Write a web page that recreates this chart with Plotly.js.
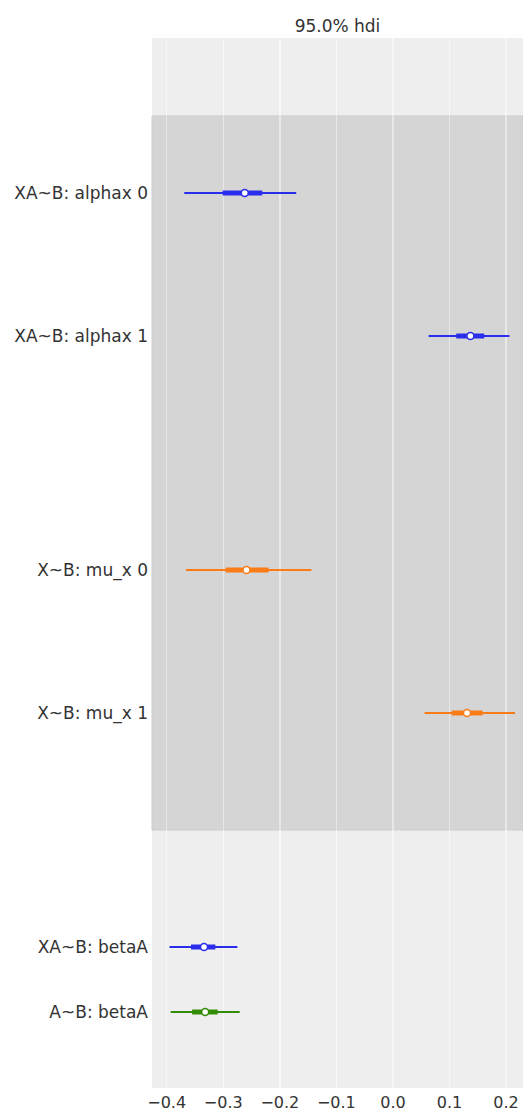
<!DOCTYPE html>
<html>
<head>
<meta charset="utf-8">
<script src="https://cdn.plot.ly/plotly-3.0.1.min.js"></script>
<style>html,body{margin:0;padding:0;background:#fff;}#chart{width:523px;height:1111px;}</style>
</head>
<body>
<div id="chart"></div>
<script>
// Row labels (top to bottom) and their positions on the forest plot's y scale
const labels = ["XA~B: alphax 0", "XA~B: alphax 1", "X~B: mu_x 0", "X~B: mu_x 1", "XA~B: betaA", "A~B: betaA"];
const yPos = [895, 752, 518, 375, 141, 76];
const rowColors = ["#2a2eec", "#2a2eec", "#fa7c17", "#fa7c17", "#2a2eec", "#328c06"];
// 95% HDI bounds
const hdiLow  = [-0.369, 0.063, -0.366, 0.056, -0.395, -0.393];
const hdiHigh = [-0.171, 0.206, -0.144, 0.216, -0.275, -0.271];
// Interquartile range
const iqrLow  = [-0.301, 0.112, -0.296, 0.104, -0.357, -0.355];
const iqrHigh = [-0.231, 0.1615, -0.220, 0.1585, -0.314, -0.310];
// Medians
const medians = [-0.262, 0.137, -0.259, 0.131, -0.334, -0.332];
// Shaded group band (y extent)
const bandY = [258, 972];
// X ticks
const xTickVals = [-0.4, -0.3, -0.2, -0.1, 0.0, 0.1, 0.2];
const xTickText = ["\u22120.4", "\u22120.3", "\u22120.2", "\u22120.1", "0.0", "0.1", "0.2"];

const traces = [];
for (let i = 0; i < labels.length; i++) {
  traces.push({
    x: [hdiLow[i], hdiHigh[i]], y: [yPos[i], yPos[i]],
    mode: "lines", line: {color: rowColors[i], width: 2}, hoverinfo: "skip", showlegend: false
  });
  traces.push({
    x: [iqrLow[i], iqrHigh[i]], y: [yPos[i], yPos[i]],
    mode: "lines", line: {color: rowColors[i], width: 5}, hoverinfo: "skip", showlegend: false
  });
  traces.push({
    x: [medians[i]], y: [yPos[i]],
    mode: "markers",
    marker: {color: "#ffffff", size: 7, line: {color: rowColors[i], width: 1.5}},
    hoverinfo: "skip", showlegend: false
  });
}

const layout = {
  width: 523, height: 1111,
  margin: {l: 152, r: 0, t: 38, b: 23},
  paper_bgcolor: "#ffffff",
  plot_bgcolor: "#eeeeee",
  font: {family: "DejaVu Sans, sans-serif", size: 17, color: "#333333"},
  title: {text: "95.0% hdi", x: 0.5, xref: "paper", y: 1, yref: "paper", yanchor: "bottom", pad: {b: 6},
          font: {family: "DejaVu Sans, sans-serif", size: 17, color: "#333333"}},
  xaxis: {
    range: [-0.426, 0.230], tickvals: xTickVals, ticktext: xTickText,
    showgrid: true, gridcolor: "rgba(255,255,255,0.45)", gridwidth: 1.5, zeroline: false,
    showline: false, ticks: "", ticklabelstandoff: 3, tickfont: {size: 16, color: "#333333"}
  },
  yaxis: {
    range: [0, 1050], tickvals: yPos, ticktext: labels,
    showgrid: false, zeroline: false, showline: false, ticks: "", ticklabelstandoff: 3,
    tickfont: {size: 17, color: "#333333"}
  },
  shapes: [{
    type: "rect", xref: "paper", yref: "y", x0: 0, x1: 1, y0: bandY[0], y1: bandY[1],
    fillcolor: "#d5d5d5", line: {width: 1, color: "#cdcdcd"}, layer: "below"
  }]
};

Plotly.newPlot("chart", traces, layout, {displayModeBar: false, staticPlot: true});
</script>
</body>
</html>
